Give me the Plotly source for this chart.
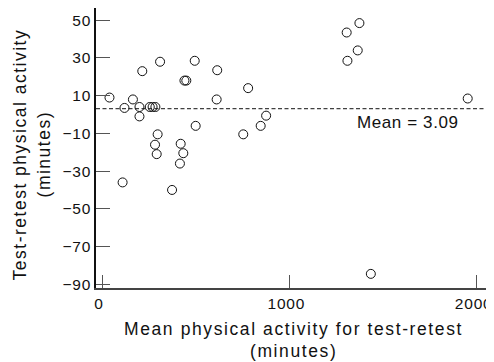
import plotly.graph_objects as go

mean_activity = [40, 120, 165, 200, 200, 215, 255, 270, 285, 310, 440, 450, 495,
                 615, 612, 780, 500, 297, 283, 292, 420, 434, 416, 110, 374,
                 876, 847, 754, 1306, 1374, 1310, 1365, 1952, 1435]
diff_activity = [9, 3.5, 8, 4, -1, 23, 4, 4, 4, 28, 18, 18, 28.5,
                 23.5, 8, 14, -6, -10.5, -16, -21, -15.5, -20.5, -26, -36, -40,
                 -0.6, -6, -10.5, 43.5, 48.5, 28.5, 34, 8.5, -84.5]
mean_diff = 3.09
x_ticks = [0, 1000, 2000]
y_ticks = [50, 30, 10, -10, -30, -50, -70, -90]
x_title = ["Mean physical activity for test-retest", "(minutes)"]
y_title = ["Test-retest physical activity", "(minutes)"]

font = "Liberation Sans, Arial, sans-serif"
ink = "#111111"


def spaced(text, px):
    return f'<span style="letter-spacing:{px}px">{text}</span>'


def tick_label(v):
    return spaced(str(v).replace("-", "\u2212"), 0.8)


fig = go.Figure()
fig.add_trace(go.Scatter(
    x=mean_activity, y=diff_activity, mode="markers",
    marker=dict(symbol="circle-open", size=9, color=ink,
                line=dict(width=1, color=ink)),
    showlegend=False, hoverinfo="skip"))
fig.add_trace(go.Scatter(
    x=[-32, 2071], y=[mean_diff, mean_diff], mode="lines",
    line=dict(color=ink, width=1, dash="4px,2.5px"),
    showlegend=False, hoverinfo="skip"))
fig.add_annotation(x=1631, y=-4.4, text=spaced(f"Mean = {mean_diff}", 0.6),
                   showarrow=False, xanchor="center", yanchor="middle",
                   font=dict(family=font, size=17, color=ink))
title_font = dict(family=font, size=17.5, color=ink)
for text, shift in zip(x_title, [-41, -63]):
    fig.add_annotation(xref="paper", yref="paper", x=0.5, y=0, yshift=shift,
                       text=spaced(text, 1.6), showarrow=False,
                       xanchor="center", yanchor="middle", font=title_font)
for text, shift in zip(y_title, [-76, -52]):
    fig.add_annotation(xref="paper", yref="paper", x=0, xshift=shift, y=0.477,
                       text=spaced(text, 1.5), textangle=-90, showarrow=False,
                       xanchor="center", yanchor="middle", font=title_font)

# page body has an 8px default margin, so the figure is sized to fit the window
fig.update_layout(
    width=486, height=354,
    margin=dict(l=88, r=4, t=0, b=74),
    paper_bgcolor="white", plot_bgcolor="white",
    font=dict(family=font, size=15.5, color=ink),
    xaxis=dict(range=[-32, 2071], tickvals=x_ticks,
               ticktext=[tick_label(v) for v in x_ticks],
               ticks="inside", ticklen=13, ticklabelstandoff=1, ticklabelshift=-3,
               tickcolor="#555555", tickwidth=1.3, showgrid=False, zeroline=False,
               showline=True, linecolor="#444444", linewidth=1.6,
               tickfont=dict(size=15.5), automargin=False, ticklabeloverflow="allow"),
    yaxis=dict(range=[-92, 56.5], tickvals=y_ticks,
               ticktext=[tick_label(v) for v in y_ticks],
               ticks="inside", ticklen=14,
               tickcolor="#555555", tickwidth=1.3, showgrid=False, zeroline=False,
               showline=True, linecolor=ink, linewidth=1.6,
               tickfont=dict(size=15.5), automargin=False, ticklabeloverflow="allow"),
)
fig.write_html("out.html")
